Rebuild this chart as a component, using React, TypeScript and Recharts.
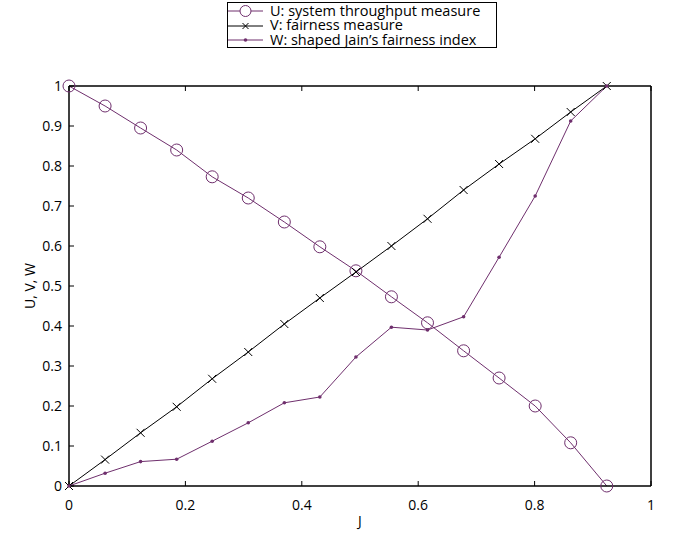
import React from 'react';
import { LineChart, Line, XAxis, YAxis, Legend, Label } from 'recharts';

const jValues = [0, 0.062, 0.123, 0.185, 0.246, 0.308, 0.37, 0.431, 0.493, 0.554, 0.616, 0.678, 0.739, 0.801, 0.862, 0.924];
const uValues = [1, 0.95, 0.895, 0.84, 0.773, 0.72, 0.66, 0.598, 0.538, 0.473, 0.408, 0.338, 0.27, 0.2, 0.108, 0];
const vValues = [0, 0.066, 0.133, 0.198, 0.268, 0.335, 0.405, 0.47, 0.535, 0.6, 0.668, 0.74, 0.805, 0.868, 0.935, 1];
const wValues = [0, 0.032, 0.061, 0.067, 0.112, 0.158, 0.208, 0.2225, 0.3225, 0.397, 0.39, 0.423, 0.572, 0.725, 0.9125, 1];
const xTicks = [0, 0.2, 0.4, 0.6, 0.8, 1];
const yTicks = [0, 0.1, 0.2, 0.3, 0.4, 0.5, 0.6, 0.7, 0.8, 0.9, 1];
const seriesNames = ['U: system throughput measure', 'V: fairness measure', 'W: shaped Jain\u2019s fairness index'];

const PURPLE = '#6f2f6d';
const FONT = '"Open Sans", sans-serif';
const LEGEND_H = 46;
const ROW_H = 14.7;

const data = jValues.map((x, i) => ({ x, u: uValues[i], v: vValues[i], w: wValues[i] }));

const fmt = (v: number) => (v === 0 ? '0' : v === 1 ? '1' : String(v));

const CircleDot = (props: any) => {
  const { cx, cy } = props;
  if (cx == null || cy == null) return null;
  return <circle cx={cx} cy={cy} r={6} fill="none" stroke={PURPLE} strokeWidth={1} />;
};
const CrossDot = (props: any) => {
  const { cx, cy } = props;
  if (cx == null || cy == null) return null;
  const s = 4;
  return (
    <g stroke="#000" strokeWidth={1}>
      <line x1={cx - s} y1={cy - s} x2={cx + s} y2={cy + s} />
      <line x1={cx - s} y1={cy + s} x2={cx + s} y2={cy - s} />
    </g>
  );
};
const SmallDot = (props: any) => {
  const { cx, cy } = props;
  if (cx == null || cy == null) return null;
  return <circle cx={cx} cy={cy} r={1.8} fill={PURPLE} stroke="none" />;
};

const LegendBox = () => {
  const rows = [
    { name: seriesNames[0], color: PURPLE, marker: 'circle' },
    { name: seriesNames[1], color: '#000', marker: 'cross' },
    { name: seriesNames[2], color: PURPLE, marker: 'dot' },
  ];
  return (
    <div style={{ border: '1px solid #000', background: '#fff', width: 270, height: LEGEND_H, boxSizing: 'border-box', fontFamily: FONT, fontSize: 14.5, lineHeight: `${ROW_H}px`, paddingTop: 0.5 }}>
      {rows.map((r) => (
        <div key={r.name} style={{ display: 'flex', alignItems: 'center', height: ROW_H }}>
          <svg width={42} height={14} style={{ flex: 'none' }}>
            <line x1={0} y1={7} x2={35} y2={7} stroke={r.color} strokeWidth={1} />
            {r.marker === 'circle' && <circle cx={17.5} cy={7} r={5.5} fill="#fff" stroke={r.color} />}
            {r.marker === 'cross' && (
              <g stroke={r.color}>
                <line x1={14.5} y1={4} x2={20.5} y2={10} />
                <line x1={14.5} y1={10} x2={20.5} y2={4} />
              </g>
            )}
            {r.marker === 'dot' && <circle cx={17.5} cy={7} r={1.8} fill={r.color} />}
          </svg>
          <span style={{ whiteSpace: 'nowrap', color: '#000' }}>{r.name}</span>
        </div>
      ))}
    </div>
  );
};

export default function App() {
  const tickStyle = { fontFamily: FONT, fontSize: 14, fill: '#000' };
  return (
    <div style={{ position: 'absolute', left: 0, top: 0, width: 673, height: 534, background: '#fff' }}>
      <LineChart width={673} height={534} data={data} margin={{ top: 86 - LEGEND_H - 1, right: 21, bottom: 47, left: 68 }}>
        <XAxis xAxisId="b" dataKey="x" type="number" domain={[0, 1]} ticks={xTicks} tickFormatter={fmt}
          height={1} tickSize={-5} tickMargin={19} tick={tickStyle}
          axisLine={{ stroke: '#000', strokeWidth: 1.5 }} tickLine={{ stroke: '#000', strokeWidth: 1 }}>
          <Label value="J" position="bottom" offset={29} style={{ fontFamily: FONT, fontSize: 14, fill: '#000' }} />
        </XAxis>
        <XAxis xAxisId="t" orientation="top" dataKey="x" type="number" domain={[0, 1]} ticks={xTicks} tickFormatter={() => ''}
          height={1} tickSize={-5} tickMargin={0} axisLine={{ stroke: '#000', strokeWidth: 1.5 }} tickLine={{ stroke: '#000', strokeWidth: 1 }} />
        <YAxis yAxisId="l" type="number" domain={[0, 1]} ticks={yTicks} tickFormatter={fmt}
          width={1} tickSize={-5} tickMargin={12} tick={tickStyle}
          axisLine={{ stroke: '#000', strokeWidth: 1.5 }} tickLine={{ stroke: '#000', strokeWidth: 1 }}>
          <Label value="U, V, W" angle={-90} position="left" offset={38} style={{ fontFamily: FONT, fontSize: 14, fill: '#000', textAnchor: 'middle' }} />
        </YAxis>
        <YAxis yAxisId="r" orientation="right" type="number" domain={[0, 1]} ticks={yTicks} tickFormatter={() => ''}
          width={1} tickSize={-5} tickMargin={0} axisLine={{ stroke: '#000', strokeWidth: 1.5 }} tickLine={{ stroke: '#000', strokeWidth: 1 }} />
        <Legend verticalAlign="top" align="left" content={() => <LegendBox />} wrapperStyle={{ top: 2, left: 227, width: 270, height: LEGEND_H }} />
        <Line xAxisId="b" yAxisId="l" dataKey="u" name={seriesNames[0]} stroke={PURPLE} strokeWidth={1} dot={<CircleDot />} isAnimationActive={false} />
        <Line xAxisId="b" yAxisId="l" dataKey="v" name={seriesNames[1]} stroke="#000" strokeWidth={1} dot={<CrossDot />} isAnimationActive={false} />
        <Line xAxisId="b" yAxisId="l" dataKey="w" name={seriesNames[2]} stroke={PURPLE} strokeWidth={1} dot={<SmallDot />} isAnimationActive={false} />
      </LineChart>
    </div>
  );
}
